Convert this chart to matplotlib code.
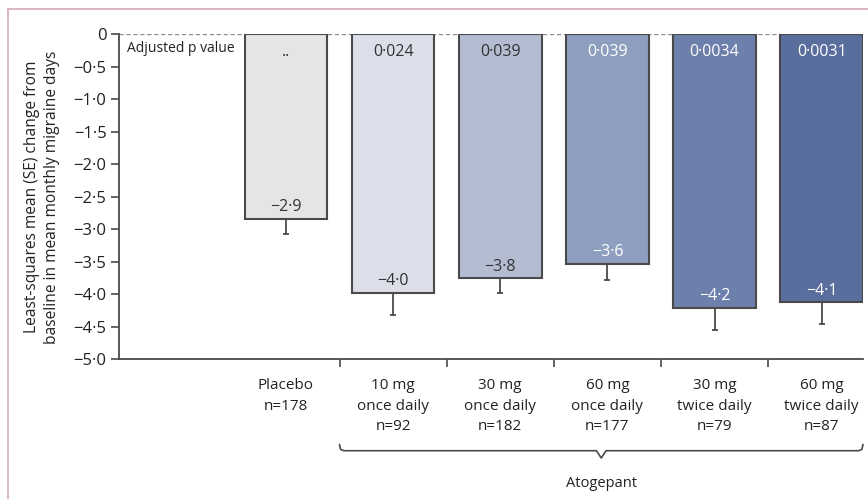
"""Atogepant phase 2/3 trial: change in monthly migraine days by dose group."""

import matplotlib
matplotlib.use("Agg")
import matplotlib.pyplot as plt
from matplotlib.lines import Line2D
from matplotlib.transforms import blended_transform_factory

plt.rcParams["font.family"] = ["Open Sans", "DejaVu Sans"]

groups = [
    "Placebo\nn=178",
    "10 mg\nonce daily\nn=92",
    "30 mg\nonce daily\nn=182",
    "60 mg\nonce daily\nn=177",
    "30 mg\ntwice daily\nn=79",
    "60 mg\ntwice daily\nn=87",
]
ls_mean = [-2.84, -3.99, -3.76, -3.53, -4.22, -4.13]
se = [0.23, 0.33, 0.23, 0.25, 0.34, 0.33]
mean_labels = ["\u22122\u00b79", "\u22124\u00b70", "\u22123\u00b78",
               "\u22123\u00b76", "\u22124\u00b72", "\u22124\u00b71"]
p_labels = ["..", "0\u00b7024", "0\u00b7039", "0\u00b7039", "0\u00b70034", "0\u00b70031"]
yticks = [0, -0.5, -1.0, -1.5, -2.0, -2.5, -3.0, -3.5, -4.0, -4.5, -5.0]

bar_colors = ["#e5e6e4", "#dcdfea", "#b4bcd2", "#8e9ebf", "#6c80ab", "#5a6e9e"]
text_colors = ["#333333", "#333333", "#333333", "white", "white", "white"]
edge = "#4a4a4a"
txt = "#222222"

fig = plt.figure(figsize=(8.68, 4.99), dpi=100)
ax = fig.add_axes([0.1371, 0.2806, 0.8571, 0.6507])

x = list(range(len(groups)))
width = 0.77

ax.axhline(0, color="#8a8a8a", lw=1, ls=(0, (3, 2)), zorder=1)
ax.bar(x, ls_mean, width=width, color=bar_colors, edgecolor=edge, linewidth=1.5, zorder=2)
ax.errorbar(x, ls_mean, yerr=[se, [0] * len(se)], fmt="none", ecolor=edge,
            elinewidth=1.3, capsize=2.5, capthick=1.3, zorder=3)

for xi, m, ml, pl, tc in zip(x, ls_mean, mean_labels, p_labels, text_colors):
    ax.text(xi, m + 0.06, ml, ha="center", va="bottom", fontsize=11.5, color=tc, zorder=4)
    ax.text(xi, -0.27, pl, ha="center", va="center", fontsize=11.5, color=tc, zorder=4)

ax.text(0.011, 0.955, "Adjusted p value", transform=ax.transAxes, ha="left",
        va="center", fontsize=10, color=txt)

ax.set_ylim(-5, 0)
ax.set_xlim(-1.558, 5.385)
ax.set_yticks(yticks)
ax.set_yticklabels(["0"] + [f"{v:.1f}".replace("-", "\u2212").replace(".", "\u00b7")
                            for v in yticks[1:]], fontsize=12, color=txt)
ax.tick_params(axis="y", direction="out", length=6, width=1.2, color=edge, pad=3)

ax.set_xticks(x)
ax.set_xticklabels(groups, fontsize=11, color=txt)
ax.tick_params(axis="x", which="major", length=0, pad=14)
for lab in ax.get_xticklabels():
    lab.set_linespacing(1.5)
ax.set_xticks([i + 0.5 for i in x[:-1]], minor=True)
ax.tick_params(axis="x", which="minor", direction="out", length=6, width=1.2, color=edge)

for side in ["top", "right"]:
    ax.spines[side].set_visible(False)
for side in ["left", "bottom"]:
    ax.spines[side].set_color(edge)
    ax.spines[side].set_linewidth(1.3)

# Brace under the atogepant groups
trans = blended_transform_factory(ax.transData, ax.transAxes)
b0, b1 = x[1] - 0.5, x[-1] + width / 2
bm = (b0 + b1) / 2
yb, yc, yv = -0.2825, -0.264, -0.305
ax.plot([b0, b0 + 0.01, b0 + 0.04, bm - 0.045, bm, bm + 0.045, b1 - 0.04, b1 - 0.01, b1],
        [yc, yb + 0.004, yb, yb, yv, yb, yb, yb + 0.004, yc],
        color=edge, lw=1.2, transform=trans, clip_on=False)
ax.text(bm, -0.382, "Atogepant", transform=trans, ha="center", va="center",
        fontsize=10.5, color=txt)

fig.text(42 / 868, 1 - 197 / 499,
         "Least-squares mean (SE) change from\nbaseline in mean monthly migraine days",
         rotation=90, ha="center", va="center", fontsize=11.2, color=txt,
         linespacing=1.4)

# Pink frame of the source figure
frame = "#d9a9b8"
fig.add_artist(Line2D([8 / 868, 8 / 868], [0, 1 - 9 / 499], color=frame, lw=1.2))
fig.add_artist(Line2D([8 / 868, 1], [1 - 9 / 499, 1 - 9 / 499], color=frame, lw=1.2))

fig.savefig("out.png", dpi=100)
